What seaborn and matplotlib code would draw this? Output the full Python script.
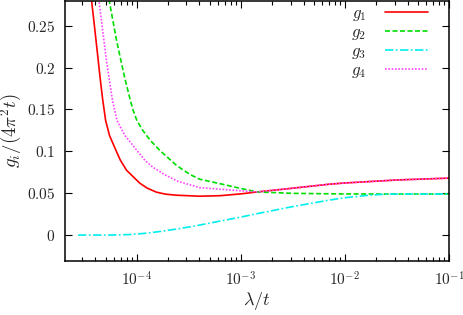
import numpy as np
import pandas as pd
import matplotlib
matplotlib.use("Agg")
import matplotlib.pyplot as plt
import matplotlib.ticker as mticker
import seaborn as sns

# values (x = lambda/t, y = g_i/(4 pi^2 t))
g1_x = [3.467e-5, 3.673e-5, 3.864e-5, 4.055e-5, 4.256e-5, 4.467e-5, 4.710e-5, 5.012e-5, 5.458e-5,
        6.295e-5, 6.950e-5, 7.962e-5, 1.069e-4, 1.259e-4, 1.545e-4, 1.897e-4, 2.399e-4, 4.009e-4,
        6.31e-4, 1e-3, 1.439e-3, 3.162e-3, 7.031e-3, 1e-2, 3.162e-2, 1e-1]
g1_y = [0.305, 0.2798, 0.2560, 0.2321, 0.2083, 0.1845, 0.1607, 0.1369, 0.1190,
        0.1012, 0.0893, 0.0774, 0.0619, 0.0560, 0.0512, 0.0488, 0.0476, 0.0464,
        0.0470, 0.0492, 0.0515, 0.0560, 0.0607, 0.0622, 0.0658, 0.068]

g2_x = [5.129e-5, 5.433e-5, 5.888e-5, 6.397e-5, 7.031e-5, 7.762e-5, 8.670e-5, 9.226e-5, 1e-4,
        1.140e-4, 1.346e-4, 1.660e-4, 2.399e-4, 3.214e-4, 4.009e-4, 6.223e-4, 9.683e-4, 1.439e-3,
        3.162e-3, 1e-2, 3.162e-2, 1e-1]
g2_y = [0.30, 0.2798, 0.2560, 0.2321, 0.2083, 0.1845, 0.1607, 0.1488, 0.1369,
        0.1250, 0.1131, 0.1012, 0.0833, 0.0726, 0.0667, 0.0615, 0.0560, 0.0515,
        0.0498, 0.0491, 0.049, 0.049]

g3_x = [2.723e-5, 5.521e-5, 8.570e-5, 1.140e-4, 1.660e-4, 2.576e-4, 4.009e-4, 9.886e-4, 1.439e-3,
        3.112e-3, 7.031e-3, 1e-2, 1.698e-2, 2.466e-2, 5.105e-2, 1e-1]
g3_y = [0.0, 0.0, 0.0006, 0.0018, 0.0042, 0.0077, 0.0119, 0.0214, 0.0256,
        0.0339, 0.0417, 0.0446, 0.0476, 0.0488, 0.049, 0.049]

g4_x = [4.074e-5, 4.325e-5, 4.571e-5, 4.831e-5, 5.105e-5, 5.458e-5, 5.834e-5, 6.442e-5, 7.674e-5,
        1e-4, 1.194e-4, 1.422e-4, 1.897e-4, 2.466e-4, 4.009e-4, 6.223e-4, 9.683e-4, 1.439e-3,
        3.162e-3, 7.031e-3, 1e-2, 3.162e-2, 1e-1]
g4_y = [0.30, 0.2798, 0.2560, 0.2321, 0.2083, 0.1845, 0.1607, 0.1369, 0.1190,
        0.1012, 0.0893, 0.0810, 0.0714, 0.0643, 0.0567, 0.0548, 0.0530, 0.0515,
        0.0560, 0.0607, 0.0622, 0.0658, 0.068]

labels = [r"$g_1$", r"$g_2$", r"$g_3$", r"$g_4$"]
colors = ["#ff0000", "#00dd00", "#00eeee", "#ff44ff"]
styles = ["-", (0, (3, 1.5)), (0, (5, 1.5, 1, 1.5)), (0, (1, 1))]

yticks = [0, 0.05, 0.1, 0.15, 0.2, 0.25]
xticks = [1e-4, 1e-3, 1e-2, 1e-1]

sns.set_style("ticks")
plt.rcParams["mathtext.fontset"] = "cm"
plt.rcParams["font.family"] = ["DejaVu Serif"]

fig = plt.figure(figsize=(4.63, 3.15), dpi=100)
ax = fig.add_axes([0.1404, 0.1714, 0.8294, 0.8266])

series = [(g1_x, g1_y), (g2_x, g2_y), (g3_x, g3_y), (g4_x, g4_y)]
for (xs, ys), lab, c, ls in zip(series, labels, colors, styles):
    df = pd.DataFrame({"x": xs, "y": ys})
    sns.lineplot(data=df, x="x", y="y", ax=ax, color=c, linestyle=ls, lw=1.2, label=lab,
                 estimator=None, sort=False)

ax.set_xscale("log")
ax.set_xlim(2.04e-5, 1e-1)
ax.set_ylim(-0.031, 0.28)
ax.set_xticks(xticks)
ax.set_yticks(yticks)
ax.xaxis.set_major_formatter(mticker.FuncFormatter(lambda v, p: r"$10^{%d}$" % round(np.log10(v))))
ax.yaxis.set_major_formatter(mticker.FuncFormatter(lambda v, p: "$%g$" % v))
ax.xaxis.set_minor_locator(mticker.LogLocator(base=10, subs=np.arange(2, 10), numticks=20))
ax.xaxis.set_minor_formatter(mticker.NullFormatter())
ax.tick_params(which="both", direction="in", top=True, right=True, labelsize=11, color="black")
ax.tick_params(which="major", length=5, width=0.8, pad=7)
ax.tick_params(which="minor", length=3, width=0.8)
for s in ax.spines.values():
    s.set_linewidth(1.1)
    s.set_color("black")

ax.set_xlabel(r"$\lambda/t$", fontsize=13, labelpad=1)
ax.set_ylabel(r"$g_i/(4\pi^2 t)$", fontsize=13.5, labelpad=2)

ax.legend(loc="upper right", frameon=False, markerfirst=False, fontsize=12,
          handlelength=2.6, labelspacing=0.06, handletextpad=1.1,
          bbox_to_anchor=(0.985, 1.04))

fig.savefig("out.png", dpi=100)
